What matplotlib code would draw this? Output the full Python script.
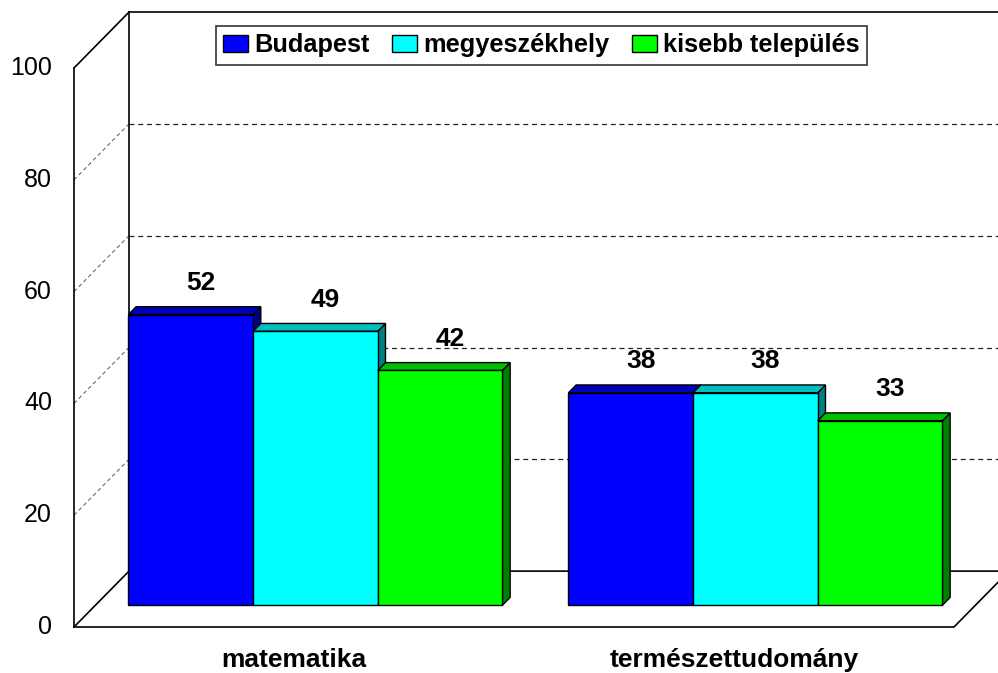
import numpy as np
import matplotlib.pyplot as plt
from matplotlib.patches import Polygon, Patch

plt.rcParams["font.family"] = ["Liberation Sans", "DejaVu Sans"]

# data
categories = ["matematika", "természettudomány"]
series = ["Budapest", "megyeszékhely", "kisebb település"]
budapest = [52, 38]
megyeszekhely = [49, 38]
kisebb_telepules = [42, 33]
values = [budapest, megyeszekhely, kisebb_telepules]
yticks = [0, 20, 40, 60, 80, 100]

front_colors = ["#0000FF", "#00FFFF", "#00FF00"]
top_colors = ["#0000BB", "#00BFBF", "#00BF00"]
side_colors = ["#000080", "#008080", "#008000"]

# oblique 3d look: offset of the back wall, depth range of the bars
DX, DY = 0.125, 10
d0, d1 = 0.39, 0.53
w = 0.85 / 3
centers = np.arange(len(categories)) + 0.5

fig = plt.figure(figsize=(9.98, 6.73), dpi=100)
ax = fig.add_axes([74 / 998, 46 / 673, 880 / 998, 559 / 673])
ax.set_xlim(0, 2)
ax.set_ylim(0, 100)
ax.axis("off")

xmax = len(categories)
line = dict(color="black", lw=1.2, clip_on=False, zorder=1)
# walls and floor
ax.plot([0, 0], [0, 100], **line)
ax.plot([DX, DX], [DY, 100 + DY], **line)
ax.plot([0, DX], [100, 100 + DY], **line)
ax.plot([DX, xmax + DX], [100 + DY, 100 + DY], **line)
ax.plot([0, DX, xmax + DX], [0, DY, DY], **line)
ax.plot([0, xmax, xmax + DX], [0, 0, DY], **line)
ax.plot([xmax + DX, xmax + DX], [DY, 100 + DY], **line)

# dashed gridlines on the back and left walls
for v in yticks[1:-1]:
    ax.plot([DX, xmax + DX], [v + DY, v + DY], color="#222222", lw=0.9,
            ls=(0, (4, 3)), clip_on=False, zorder=0.5)
    ax.plot([0, DX], [v, v + DY], color="#555555", lw=0.7,
            ls=(0, (4, 3)), clip_on=False, zorder=0.5)

for v in yticks:
    ax.text(-0.05, v, str(v), ha="right", va="center", fontsize=18)

for j, vals in enumerate(values):
    xl = centers + (j - 1.5) * w
    xr = xl + w
    z = 3 + 3 * j
    ax.bar(xl + d0 * DX, vals, width=w, bottom=d0 * DY, align="edge",
           color=front_colors[j], edgecolor="black", lw=1, zorder=z + 2)
    for a, b, v in zip(xl, xr, vals):
        side = [(b + d0 * DX, d0 * DY), (b + d1 * DX, d1 * DY),
                (b + d1 * DX, v + d1 * DY), (b + d0 * DX, v + d0 * DY)]
        top = [(a + d0 * DX, v + d0 * DY), (b + d0 * DX, v + d0 * DY),
               (b + d1 * DX, v + d1 * DY), (a + d1 * DX, v + d1 * DY)]
        ax.add_patch(Polygon(side, closed=True, facecolor=side_colors[j],
                             edgecolor="black", lw=1, zorder=z))
        ax.add_patch(Polygon(top, closed=True, facecolor=top_colors[j],
                             edgecolor="black", lw=1, zorder=z + 1))
        ax.text((a + b) / 2 + d1 * DX + 0.005, v + d1 * DY + 4.2, str(v),
                ha="center", va="center", fontsize=19, fontweight="bold",
                zorder=20)

for c, name in zip(centers, categories):
    ax.text(c, -5.9, name, ha="center", va="center", fontsize=19,
            fontweight="bold", clip_on=False)

handles = [Patch(facecolor=c, edgecolor="black", lw=1) for c in front_colors]
leg = fig.legend(handles, series, loc="center", bbox_to_anchor=(0.5426, 0.9324),
                 ncol=3, frameon=True, fancybox=False, edgecolor="black",
                 prop=dict(weight="bold", size=18.3), handlelength=0.96,
                 handleheight=0.64, handletextpad=0.25, columnspacing=0.9,
                 borderpad=0.3, borderaxespad=0)
leg.get_frame().set_linewidth(1.2)

fig.savefig("out.png", dpi=100)
